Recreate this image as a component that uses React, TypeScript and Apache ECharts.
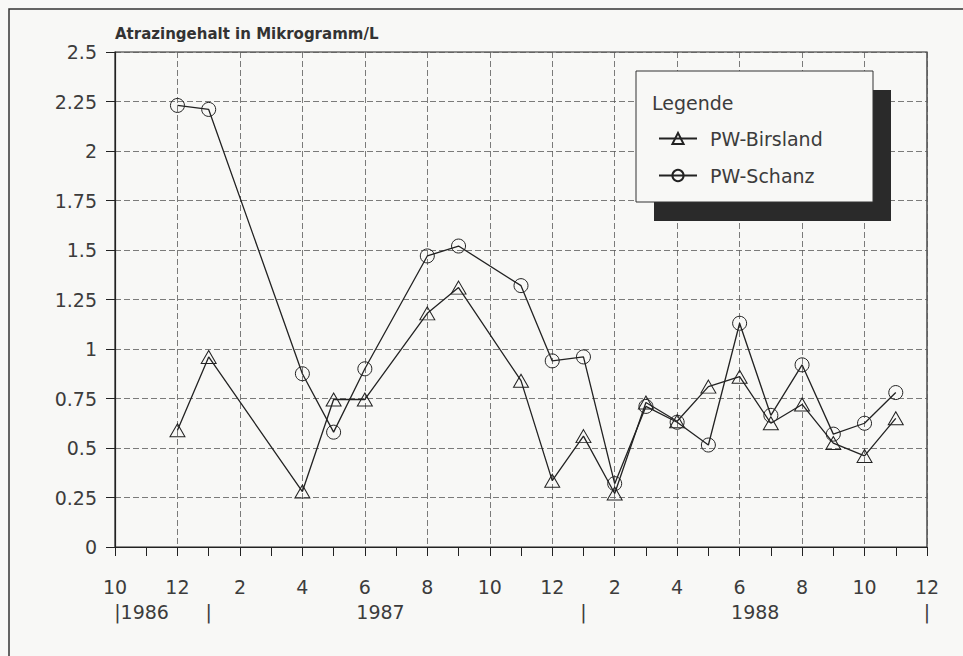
import React, { useEffect, useRef } from "react";
import * as echarts from "echarts";

// Sampling months (YYYY-MM)
const sampleDates = [
  "1986-12", "1987-01", "1987-04", "1987-05", "1987-06", "1987-08", "1987-09",
  "1987-11", "1987-12", "1988-01", "1988-02", "1988-03", "1988-04", "1988-05",
  "1988-06", "1988-07", "1988-08", "1988-09", "1988-10", "1988-11",
];
const birsland = [
  0.59, 0.96, 0.28, 0.745, 0.745, 1.18, 1.31, 0.84, 0.335, 0.56, 0.27, 0.73,
  0.635, 0.81, 0.86, 0.625, 0.72, 0.525, 0.46, 0.65,
];
const schanz = [
  2.23, 2.21, 0.875, 0.58, 0.9, 1.47, 1.52, 1.32, 0.94, 0.96, 0.32, 0.71,
  0.63, 0.515, 1.13, 0.665, 0.92, 0.57, 0.625, 0.78,
];
// month tick labels from 1986-10 to 1988-12, every second month
const monthTickLabels = ["10", "12", "2", "4", "6", "8", "10", "12", "2", "4", "6", "8", "10", "12"];
const yearLabels = [
  { month: "1986-10", offset: 0.85, text: "|1986" },
  { month: "1987-01", offset: 0, text: "|" },
  { month: "1987-06", offset: 0.5, text: "1987" },
  { month: "1988-01", offset: 0, text: "|" },
  { month: "1988-06", offset: 0.5, text: "1988" },
  { month: "1988-12", offset: 0, text: "|" },
];
const seriesNames = ["PW-Birsland", "PW-Schanz"];
const titleText = "Atrazingehalt in Mikrogramm/L";
const legendTitle = "Legende";

const monthIndex = (d: string) => {
  const [y, m] = d.split("-").map(Number);
  return (y - 1986) * 12 + (m - 10);
};

const FONT = "DejaVu Sans";
const INK = "#222";
const TXT = "#3c3c3c";
const BG = "#f8f8f6";

export default function App() {
  const ref = useRef<HTMLDivElement>(null);
  useEffect(() => {
    if (!ref.current) return;
    const chart = echarts.init(ref.current, undefined, { renderer: "svg" });
    const yearVals = yearLabels.map((y) => monthIndex(y.month) + y.offset);
    const yearText: Record<string, string> = {};
    yearLabels.forEach((y, i) => (yearText[String(yearVals[i])] = y.text));
    const gridLine = { type: [6, 3], color: "#5a5a5a", width: 0.8 };
    chart.setOption({
      animation: false,
      backgroundColor: BG,
      grid: { left: 115, right: 36, top: 52, bottom: 109, show: true, borderColor: INK, borderWidth: 1.2 },
      graphic: [
        { type: "polyline", shape: { points: [[9, 700], [9, 9], [1000, 9]] }, style: { stroke: "#333", fill: null, lineWidth: 1.5 }, z: 1 },
        { type: "text", left: 115, top: 26, style: { text: titleText, font: `bold 15px "${FONT}"`, fill: "#333" }, z: 5 },
        { type: "rect", shape: { x: 654, y: 90, width: 237, height: 131 }, style: { fill: "#2a2a2a" }, z: 10 },
        { type: "rect", shape: { x: 636, y: 71, width: 237, height: 131 }, style: { fill: BG, stroke: "#333", lineWidth: 1 }, z: 11 },
        { type: "text", x: 652, y: 93, style: { text: legendTitle, font: `19px "${FONT}"`, fill: TXT }, z: 12 },
      ],
      legend: {
        orient: "vertical",
        left: 653,
        top: 124,
        itemWidth: 38,
        itemHeight: 14,
        itemGap: 18,
        z: 20,
        data: seriesNames,
        textStyle: { fontFamily: FONT, fontSize: 19, color: TXT, padding: [0, 0, 0, 8] },
      },
      xAxis: [
        {
          type: "value",
          min: 0,
          max: 26,
          interval: 2,
          axisLine: { show: true, lineStyle: { color: INK, width: 1.2 } },
          axisTick: { show: true, length: 9, lineStyle: { color: INK, width: 1 } },
          minorTick: { show: true, splitNumber: 2, length: 9, lineStyle: { color: INK, width: 1 } },
          splitLine: { show: true, lineStyle: gridLine },
          axisLabel: {
            margin: 30,
            fontFamily: FONT,
            fontSize: 19,
            color: TXT,
            formatter: (v: number) => monthTickLabels[Math.round(v / 2)] ?? "",
          },
        },
        {
          type: "value",
          min: 0,
          max: 26,
          position: "bottom",
          axisLine: { show: false },
          axisTick: { show: false },
          splitLine: { show: false },
          axisLabel: {
            customValues: yearVals,
            margin: 55,
            fontFamily: FONT,
            fontSize: 19,
            color: TXT,
            formatter: (v: number) => yearText[String(v)] ?? "",
          },
        },
      ],
      yAxis: {
        type: "value",
        min: 0,
        max: 2.5,
        interval: 0.25,
        axisLine: { show: true, lineStyle: { color: INK, width: 1.2 } },
        axisTick: { show: true, length: 9, lineStyle: { color: INK, width: 1 } },
        splitLine: { show: true, lineStyle: gridLine },
        axisLabel: { margin: 18, fontFamily: FONT, fontSize: 19, color: TXT },
      },
      series: [
        {
          name: seriesNames[0],
          type: "line",
          symbol: "triangle",
          symbolSize: [15, 13],
          data: sampleDates.map((d, i) => [monthIndex(d), birsland[i]]),
          lineStyle: { color: INK, width: 1.3 },
          itemStyle: { color: "rgba(0,0,0,0)", borderColor: INK, borderWidth: 1 },
          z: 3,
        },
        {
          name: seriesNames[1],
          type: "line",
          symbol: "circle",
          symbolSize: 14,
          data: sampleDates.map((d, i) => [monthIndex(d), schanz[i]]),
          lineStyle: { color: INK, width: 1.3 },
          itemStyle: { color: "rgba(0,0,0,0)", borderColor: INK, borderWidth: 1 },
          z: 3,
        },
      ],
    });
    return () => chart.dispose();
  }, []);
  return <div ref={ref} style={{ position: "fixed", left: 0, top: 0, width: 963, height: 656 }} />;
}
